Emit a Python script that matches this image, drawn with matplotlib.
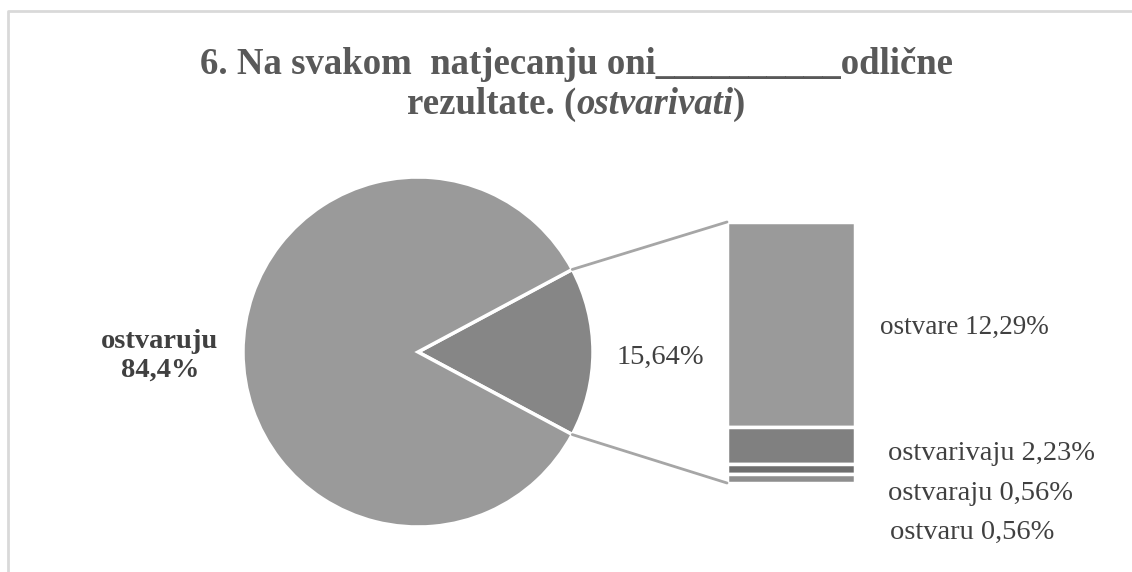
import matplotlib
matplotlib.use("Agg")
import matplotlib.pyplot as plt
from matplotlib.patches import ConnectionPatch
import numpy as np

# ---- data ----
title_line1 = "6. Na svakom  natjecanju oni__________odlične"
title_line2_parts = ["rezultate. (", "ostvarivati", ")"]
pie_labels = ["ostvaruju", "ostali"]
pie_values = [84.36, 15.64]
pie_label_texts = ["ostvaruju\n84,4%", "15,64%"]
bar_labels = ["ostvare", "ostvarivaju", "ostvaraju", "ostvaru"]
bar_values = [12.29, 2.23, 0.56, 0.56]
bar_label_texts = ["ostvare 12,29%", "ostvarivaju 2,23%", "ostvaraju 0,56%", "ostvaru 0,56%"]

pie_colors = ["#9a9a9a", "#868686"]
bar_colors = ["#9a9a9a", "#808080", "#6e6e6e", "#8e8e8e"]

W, H = 1132, 572
fig = plt.figure(figsize=(W / 100, H / 100), dpi=100)
serif = ["Liberation Serif", "DejaVu Serif"]

ax = fig.add_axes([0, 0, 1, 1])

# pie
cx, cy, r = 418, H - 352, 175
half = pie_values[1] / 100 * 360 / 2
wedges, _ = ax.pie([pie_values[1], pie_values[0]], colors=[pie_colors[1], pie_colors[0]],
                   startangle=-half, center=(cx, cy), radius=r, frame=True,
                   wedgeprops=dict(edgecolor="white", linewidth=2.5))
ax.set_xlim(0, W)
ax.set_ylim(0, H)
ax.set_aspect("auto")
ax.axis("off")

# outer border
ax.plot([8, 8, W + 5], [-5, H - 11, H - 11], color="#d9d9d9", lw=2, solid_capstyle="butt")

ax.text(160, H - 356, pie_label_texts[0], ha="center", va="center", fontsize=20.5,
        fontweight="bold", family=serif, color="#404040", linespacing=1.2)
ax.text(660, H - 357, pie_label_texts[1], ha="center", va="center", fontsize=20.5,
        family=serif, color="#404040")

# bar
bx0, bx1, by_top, by_bot = 727, 855, 222, 483
bax = fig.add_axes([bx0 / W, (H - by_bot) / H, (bx1 - bx0) / W, (by_bot - by_top) / H])
total = sum(bar_values)
bottom = total
for v, c in zip(bar_values, bar_colors):
    bottom -= v
    bax.bar(0, v, bottom=bottom, width=1.0, color=c, edgecolor="white", linewidth=2.5)
bax.set_xlim(-0.5, 0.5)
bax.set_ylim(0, total)
bax.axis("off")

# connector lines
theta = np.deg2rad(half)
p_top = (cx + r * np.cos(theta), cy + r * np.sin(theta))
p_bot = (cx + r * np.cos(theta), cy - r * np.sin(theta))
for p, yb in [(p_top, total), (p_bot, 0)]:
    con = ConnectionPatch(xyA=p, coordsA=ax.transData, xyB=(-0.5, yb), coordsB=bax.transData,
                          color="#a6a6a6", lw=2)
    fig.add_artist(con)

# bar labels
label_pos = [(880, 327), (888, 453), (888, 494), (890, 532)]
label_sizes = [19.5, 20.5, 20.5, 20.5]
for t, (x, y), s in zip(bar_label_texts, label_pos, label_sizes):
    ax.text(x, H - y, t, ha="left", va="center", fontsize=s, family=serif, color="#404040")

# title
ax.text(576, H - 64, title_line1, ha="center", va="center", fontsize=26.5, fontweight="bold",
        family=serif, color="#595959")
fig.canvas.draw()
renderer = fig.canvas.get_renderer()
styles = ["normal", "italic", "normal"]
tmp = []
widths = []
for part, st in zip(title_line2_parts, styles):
    t = ax.text(0, H - 104, part, ha="left", va="center", fontsize=26.5, fontweight="bold",
                fontstyle=st, family=serif, color="#595959")
    bb = t.get_window_extent(renderer)
    widths.append(bb.width)
    tmp.append(t)
x = 576 - sum(widths) / 2
for t, w in zip(tmp, widths):
    t.set_x(x)
    x += w

fig.savefig("out.png", dpi=100)
